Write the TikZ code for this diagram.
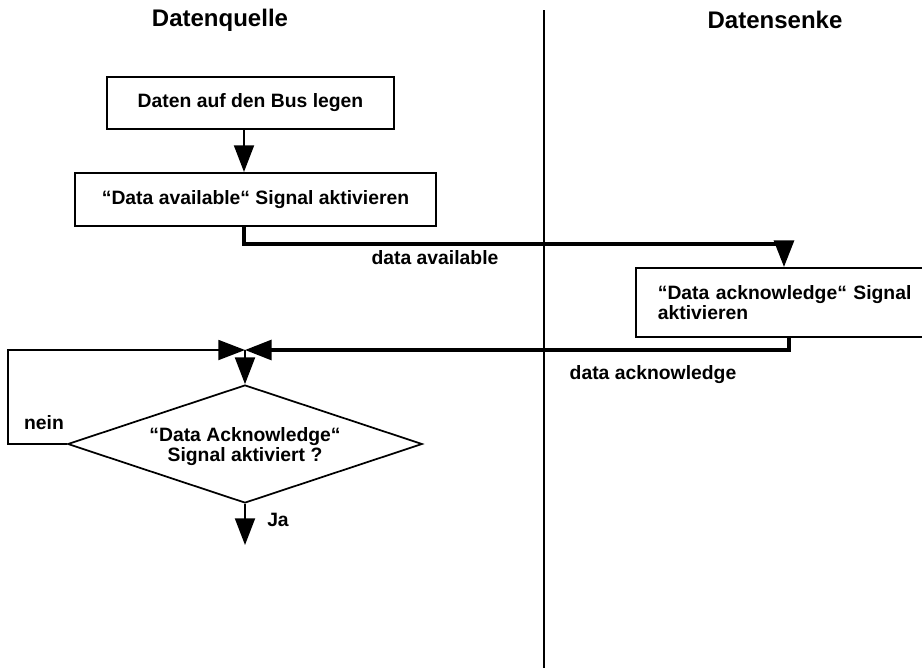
\documentclass[tikz,border=0pt]{standalone}
\usepackage{fontspec}
\setmainfont{Liberation Sans}
\usetikzlibrary{arrows.meta,positioning,calc,shapes.geometric}
\newcommand{\boxfont}{\fontsize{14.5}{15}\selectfont\bfseries}
\newcommand{\headfont}{\fontsize{18}{20}\selectfont\bfseries}

\begin{document}
\begin{tikzpicture}[x=0.75pt, y=-0.75pt,
  box/.style={draw, line width=1.3pt, font=\boxfont, align=center, inner sep=0pt},
  dec/.style={draw, diamond, aspect=3, line width=1.3pt, font=\boxfont, align=center,
    inner sep=0pt, minimum width=266pt, minimum height=88.5pt},
  lbl/.style={font=\boxfont},
  head/.style={font=\headfont},
  arr/.style={-{Triangle[length=20pt,width=15pt]}, line width=1.4pt},
  sig/.style={line width=2.3pt}]
\useasboundingbox (0,0) rectangle (922,668);
% lanes
\node[head] (src) at (220,20) {Datenquelle};
\node[head] (snk) at (775,20) {Datensenke};
\draw[line width=1.2pt] (544,10) -- (544,668);
% boxes
\node[box, minimum width=215pt, minimum height=39pt] (bus) at (250.5,103) {Daten auf den Bus legen};
\node[box, minimum width=271pt, minimum height=40pt] (avail) at (255.5,199.5) {“Data available“ Signal aktivieren};
\node[box, anchor=west, align=left, text width=280pt, inner xsep=16.5pt,
  minimum height=52pt] (ack) at (635,302.5) {“Data acknowledge“ Signal\\aktivieren};
\node[dec, text depth=0pt] (dia) at (245,444) {“Data Acknowledge“\\Signal aktiviert ?};
% helper points
\coordinate (avx) at (244,244);
\coordinate (ackin) at (784,244);
\coordinate (ackx) at (789,350);
\coordinate (j) at (245,350);
\coordinate (jaend) at (245,545);
% connectors
\draw[arr] (bus.south -| avx) -- (avail.north -| avx);
\draw[arr, sig] (avail.south -| avx) -- (avx) -- (ackin) -- (ack.north -| ackin);
\draw[arr, sig] (ack.south -| ackx) -- (ackx) -- (j);
\draw[arr] (dia.west) -- ++(-59,0) |- (j);
\draw[arr] (j) -- (dia.north);
\draw[arr] (dia.south) -- (jaend);
% labels
\node[lbl] (lav) at (435,258) {data available};
\node[lbl] (lack) at (653,375) {data acknowledge};
\node[lbl] (nein) at (44,423) {nein};
\node[lbl] (ja) at (278,520) {Ja};
\end{tikzpicture}
\end{document}
